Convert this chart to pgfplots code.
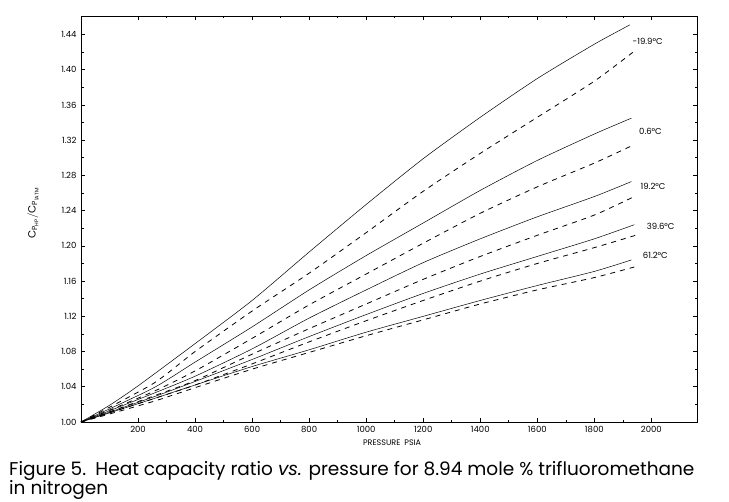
\documentclass[border=0pt]{standalone}
\usepackage{fontspec}
\setmainfont{Poppins}
\usepackage{amsmath}
\usepackage{pgfplots}
\pgfplotsset{compat=1.18}
\usepackage{pgfplotstable}

\pgfplotstableread{
P v
0 1.000
100 1.019
200 1.041
400 1.089
600 1.138
800 1.193
1000 1.247
1200 1.299
1400 1.346
1600 1.390
1800 1.429
1925 1.451
}\Asol
\pgfplotstableread{
P v
0 1.000
250 1.043
400 1.080
600 1.126
800 1.169
1000 1.215
1200 1.262
1400 1.305
1600 1.346
1800 1.387
1940 1.421
}\Adash
\pgfplotstableread{
P v
0 1.000
250 1.038
400 1.068
600 1.108
800 1.150
1000 1.189
1200 1.226
1400 1.263
1600 1.297
1800 1.327
1930 1.345
}\Bsol
\pgfplotstableread{
P v
0 1.000
250 1.034
400 1.058
600 1.095
800 1.133
1000 1.168
1200 1.203
1400 1.237
1600 1.267
1800 1.294
1940 1.315
}\Bdash
\pgfplotstableread{
P v
0 1.000
250 1.032
400 1.052
600 1.083
800 1.118
1000 1.150
1200 1.181
1400 1.208
1600 1.233
1800 1.256
1930 1.273
}\Csol
\pgfplotstableread{
P v
0 1.000
250 1.029
400 1.047
600 1.077
800 1.106
1000 1.134
1200 1.162
1400 1.188
1600 1.212
1800 1.235
1940 1.256
}\Cdash
\pgfplotstableread{
P v
0 1.000
250 1.028
400 1.046
600 1.071
800 1.097
1000 1.122
1200 1.146
1400 1.168
1600 1.188
1800 1.208
1940 1.224
}\Dsol
\pgfplotstableread{
P v
0 1.000
250 1.026
400 1.042
600 1.066
800 1.091
1000 1.115
1200 1.138
1400 1.160
1600 1.180
1800 1.198
1950 1.2125
}\Ddash
\pgfplotstableread{
P v
0 1.000
250 1.026
400 1.042
600 1.063
800 1.082
1000 1.102
1200 1.120
1400 1.138
1600 1.155
1800 1.171
1930 1.184
}\Esol
\pgfplotstableread{
P v
0 1.000
250 1.023
400 1.039
600 1.060
800 1.079
1000 1.098
1200 1.116
1400 1.134
1600 1.150
1800 1.164
1940 1.176
}\Edash

\begin{document}
\begin{tikzpicture}
\begin{axis}[
  name=ax,
  scale only axis,
  width=616pt, height=406pt,
  xmin=0, xmax=2160,
  ymin=1.00, ymax=1.461,
  axis line style={line width=0.8pt},
  xtick={200,400,...,2000},
  ytick={1.00,1.04,...,1.44},
  minor x tick num=1,
  minor y tick num=1,
  tick align=inside,
  major tick length=4pt,
  minor tick length=2.5pt,
  tick style={black, line width=0.6pt},
  xticklabel style={font=\fontsize{8.5}{10}\selectfont, yshift=-1pt},
  yticklabel style={font=\fontsize{8.5}{10}\selectfont, xshift=-1pt},
  /pgf/number format/assume math mode=true,
  y tick label style={/pgf/number format/.cd, fixed, fixed zerofill, precision=2},
  x tick label style={/pgf/number format/.cd, fixed, 1000 sep={}},
  xlabel={PRESSURE\enspace PSIA},
  xlabel style={font=\fontsize{8}{9}\selectfont, at={(axis description cs:0.505,-0.052)}, anchor=center},
  ylabel={$\text{C}_{\text{P}_{\text{HP}}}/\text{C}_{\text{P}_{\text{1ATM}}}$},
  ylabel style={font=\fontsize{10.5}{12}\selectfont, at={(axis description cs:-0.078,0.515)}, anchor=center},
  clip=false,
  every axis plot/.append style={smooth, tension=0.4},
]
\addplot[black, line width=0.5pt] table {\Asol};
\addplot[black, line width=0.8pt, dash pattern=on 5pt off 5pt] table {\Adash};
\addplot[black, line width=0.5pt] table {\Bsol};
\addplot[black, line width=0.8pt, dash pattern=on 5pt off 5pt] table {\Bdash};
\addplot[black, line width=0.5pt] table {\Csol};
\addplot[black, line width=0.8pt, dash pattern=on 5pt off 5pt] table {\Cdash};
\addplot[black, line width=0.5pt] table {\Dsol};
\addplot[black, line width=0.8pt, dash pattern=on 5pt off 5pt] table {\Ddash};
\addplot[black, line width=0.5pt] table {\Esol};
\addplot[black, line width=0.8pt, dash pattern=on 5pt off 5pt] table {\Edash};

\node[anchor=west, font=\fontsize{8.5}{10}\selectfont] at (axis cs:1922,1.432) {-19.9°C};
\node[anchor=west, font=\fontsize{8.5}{10}\selectfont] at (axis cs:1945,1.330) {0.6°C};
\node[anchor=west, font=\fontsize{8.5}{10}\selectfont] at (axis cs:1950,1.267) {19.2°C};
\node[anchor=west, font=\fontsize{8.5}{10}\selectfont] at (axis cs:1972,1.222) {39.6°C};
\node[anchor=west, font=\fontsize{8.5}{10}\selectfont] at (axis cs:1958,1.189) {61.2°C};
\end{axis}
\node[anchor=base west, font=\fontsize{18.5}{22}\selectfont, inner sep=0pt] at ([xshift=-72pt,yshift=-53.7pt]ax.south west) {Figure 5.\enspace Heat capacity ratio \textit{vs.} pressure for 8.94 mole \% trifluoromethane};
\node[anchor=base west, font=\fontsize{18.5}{22}\selectfont, inner sep=0pt] at ([xshift=-72pt,yshift=-72.5pt]ax.south west) {in nitrogen};
\useasboundingbox ([xshift=-81pt,yshift=-79pt]ax.south west) rectangle ([xshift=32pt,yshift=16pt]ax.north east);
\end{tikzpicture}
\end{document}
